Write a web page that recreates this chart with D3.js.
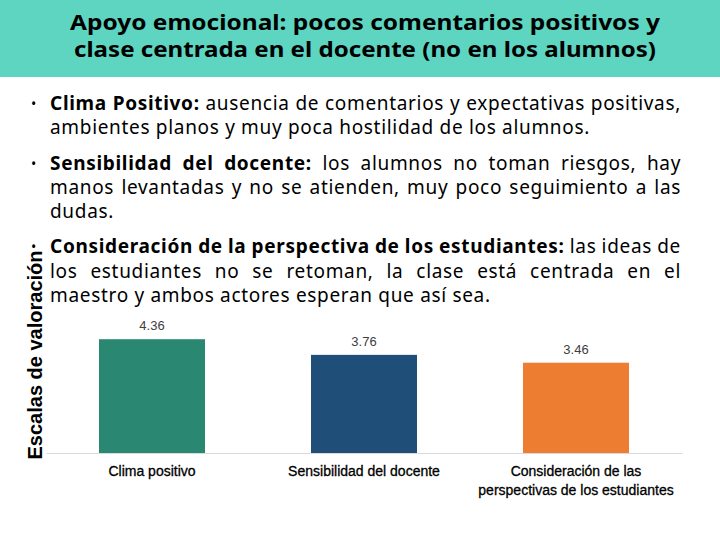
<!DOCTYPE html>
<html><head><meta charset="utf-8">
<script src="https://cdn.jsdelivr.net/npm/d3@7"></script>
<style>body{margin:0;background:#fff}</style>
</head><body>
<svg id="c" width="720" height="540"></svg>
<script>
// ---- data ----
const categories = ["Clima positivo", "Sensibilidad del docente", "Consideración de las perspectivas de los estudiantes"];
const categoryLines = [["Clima positivo"], ["Sensibilidad del docente"], ["Consideración de las", "perspectivas de los estudiantes"]];
const values = [4.36, 3.76, 3.46];
const valueLabels = ["4.36", "3.76", "3.46"];
const barColors = ["#2a8771", "#1f4e79", "#ed7d31"];
const yAxisTitle = "Escalas de valoración";
const titleLines = ["Apoyo emocional: pocos comentarios positivos y", "clase centrada en el docente (no en los alumnos)"];
const paragraph1 = [
  [["Clima Positivo:", true], ["ausencia de comentarios y expectativas positivas,", false]],
  [["ambientes planos y muy poca hostilidad de los alumnos.", false]]
];
const paragraph2 = [
  [["Sensibilidad del docente:", true], ["los alumnos no toman riesgos, hay", false]],
  [["manos levantadas y no se atienden, muy poco seguimiento a las", false]],
  [["dudas.", false]]
];
const paragraph3 = [
  [["Consideración de la perspectiva de los estudiantes:", true], ["las ideas de", false]],
  [["los estudiantes no se retoman, la clase está centrada en el", false]],
  [["maestro y ambos actores esperan que así sea.", false]]
];

// ---- layout ----
const svg = d3.select("#c");
const bodyFont = "'Noto Sans', 'Open Sans', sans-serif";
const titleFont = "'Noto Sans', 'Open Sans', sans-serif";

function measure(str, font, size, weight, ls) {
  const t = svg.append("text").attr("font-family", font).attr("font-size", size)
    .attr("font-weight", weight).style("letter-spacing", (ls || 0) + "px").text(str);
  const w = t.node().getComputedTextLength();
  t.remove();
  return w;
}

// header
svg.append("rect").attr("x", 0).attr("y", 0).attr("width", 720).attr("height", 77).attr("fill", "#5dd5c0");
const tSize = 21;
const tTargets = [590, 582];
svg.selectAll("text.title").data(titleLines).join("text").attr("class", "title")
  .attr("x", 365).attr("y", (d, i) => 30 + i * 26.5)
  .attr("text-anchor", "middle").attr("font-family", titleFont).attr("font-weight", "bold")
  .attr("font-size", tSize).attr("fill", "#000")
  .attr("textLength", (d, i) => tTargets[i]).attr("lengthAdjust", "spacingAndGlyphs")
  .text(d => d);

// body text
const bSize = 19;
const refLine = paragraph1[1][0][0];
const bLS = (540 - measure(refLine, bodyFont, bSize, "normal")) / refLine.length;
const textLeft = 50, textRight = 681;
function drawParagraph(lines, baselines) {
  svg.append("text").attr("x", 31).attr("y", baselines[0] - 1).attr("font-family", bodyFont)
    .attr("font-size", 14).attr("fill", "#000").text("•");
  lines.forEach((line, li) => {
    const words = [];
    line.forEach(([s, b]) => s.split(" ").forEach(w => words.push({w, b})));
    words.forEach(o => o.width = measure(o.w, bodyFont, bSize, o.b ? "bold" : "normal", bLS));
    const total = d3.sum(words, o => o.width);
    const justify = li < lines.length - 1;
    const gap = justify ? (textRight - textLeft - total) / (words.length - 1)
      : measure("a a", bodyFont, bSize, "normal", bLS) - measure("aa", bodyFont, bSize, "normal", bLS);
    let x = textLeft;
    words.forEach(o => {
      svg.append("text").attr("x", x).attr("y", baselines[li]).attr("font-family", bodyFont)
        .attr("font-size", bSize).attr("font-weight", o.b ? "bold" : "normal")
        .style("letter-spacing", bLS + "px").attr("fill", "#000").text(o.w);
      x += o.width + gap;
    });
  });
}
drawParagraph(paragraph1, [110, 134]);
drawParagraph(paragraph2, [170, 194, 218]);
drawParagraph(paragraph3, [253, 278, 302]);

// chart
const x = d3.scaleBand().domain(categories).range([46, 682]).paddingInner(0.5).paddingOuter(0.25);
const y = d3.scaleLinear().domain([0, 5]).range([453, 322.5]);

svg.selectAll("rect.bar").data(values).join("rect").attr("class", "bar")
  .attr("x", (d, i) => x(categories[i])).attr("width", x.bandwidth())
  .attr("y", d => y(d)).attr("height", d => y(0) - y(d))
  .attr("fill", (d, i) => barColors[i]);

const xAxis = svg.append("g").attr("transform", `translate(0,${y(0)})`)
  .call(d3.axisBottom(x).tickSize(0).tickFormat(""));
xAxis.select(".domain").attr("stroke", "#d9d9d9").attr("stroke-width", 1.2);

svg.selectAll("text.val").data(values).join("text").attr("class", "val")
  .attr("x", (d, i) => x(categories[i]) + x.bandwidth() / 2).attr("y", d => y(d) - 9)
  .attr("text-anchor", "middle").attr("font-family", "'Liberation Sans', Arial, sans-serif")
  .attr("font-size", 13).attr("fill", "#404040").text((d, i) => valueLabels[i]);

categories.forEach((c, i) => {
  const t = svg.append("text").attr("text-anchor", "middle")
    .attr("font-family", "'Liberation Sans', Arial, sans-serif").attr("font-size", 14)
    .attr("fill", "#000").attr("stroke", "#000").attr("stroke-width", 0.3);
  categoryLines[i].forEach((ln, j) => {
    t.append("tspan").attr("x", x(c) + x.bandwidth() / 2).attr("y", 476 + j * 19).text(ln);
  });
});

svg.append("text").attr("transform", "translate(42,355) rotate(-90)")
  .attr("text-anchor", "middle").attr("font-family", "'Liberation Sans', Arial, sans-serif")
  .attr("font-weight", "bold").attr("font-size", 20).attr("fill", "#000").text(yAxisTitle);
</script>
</body></html>
